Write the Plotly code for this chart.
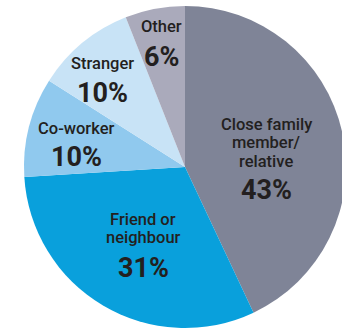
import plotly.graph_objects as go

# ---- data ----
categories = ["Close family member/relative", "Friend or neighbour", "Co-worker", "Stranger", "Other"]
values = [43, 31, 10, 10, 6]
label_lines = [["Close family", "member/", "relative"], ["Friend or", "neighbour"], ["Co-worker"], ["Stranger"], ["Other"]]
pct_labels = ["43%", "31%", "10%", "10%", "6%"]

# ---- style ----
colors = ["#7f8497", "#09a0dc", "#90c9ee", "#c8e3f6", "#aaaabb"]
text_color = "#231f20"
W, H = 370, 334          # figure larger than window so the pie is clipped like the reference
R = 161                  # pie radius in px
CX, CY = 185, 167        # pie centre in px (from top-left)

# label anchor positions (px, from top-left): x, first line centre, line spacing, percent centre
label_pos = [(266, 124, 18.5, 190), (143, 219, 18.5, 268), (76, 128, 18.5, 157), (102, 64, 18.5, 93), (161, 26, 18.5, 57)]

fig = go.Figure(go.Pie(
    labels=categories,
    values=values,
    sort=False,
    direction="clockwise",
    rotation=0,
    marker=dict(colors=colors, line=dict(width=0)),
    textinfo="none",
    hoverinfo="label+percent",
    domain=dict(x=[(CX - R) / W, (CX + R) / W], y=[1 - (CY + R) / H, 1 - (CY - R) / H]),
    showlegend=False,
))

font_family = "Roboto, 'Open Sans', sans-serif"
ann = []
for lines, pct, (x, y0, dy, yp) in zip(label_lines, pct_labels, label_pos):
    for i, ln in enumerate(lines):
        ann.append(dict(x=x / W, y=1 - (y0 + i * dy) / H, xref="paper", yref="paper",
                        text=ln, showarrow=False, xanchor="center", yanchor="middle",
                        font=dict(family=font_family, size=16.5, color=text_color, weight=500)))
    ann.append(dict(x=x / W, y=1 - yp / H, xref="paper", yref="paper",
                    text="<b>" + pct + "</b>", showarrow=False, xanchor="center", yanchor="middle",
                    font=dict(family=font_family, size=27, color=text_color)))

fig.update_layout(
    width=W, height=H,
    margin=dict(l=0, r=0, t=0, b=0),
    paper_bgcolor="white", plot_bgcolor="white",
    annotations=ann,
)

fig.write_html("out.html",
               post_script="document.documentElement.style.overflow='hidden';document.body.style.overflow='hidden';")
